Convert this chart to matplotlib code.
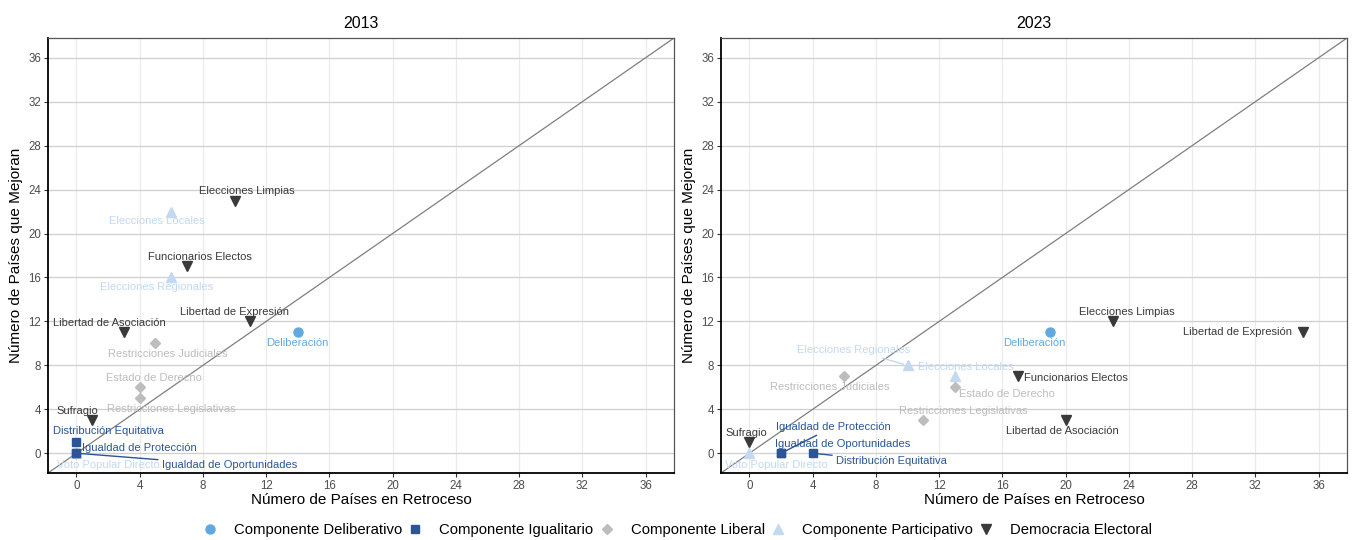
import matplotlib
matplotlib.use("Agg")
import matplotlib.pyplot as plt
from matplotlib.ticker import MultipleLocator

plt.rcParams['font.family'] = ['Liberation Sans', 'DejaVu Sans']

# components and styles
components = ["Componente Deliberativo", "Componente Igualitario", "Componente Liberal",
              "Componente Participativo", "Democracia Electoral"]
comp_colors = {"Componente Deliberativo": "#62a8e0",
               "Componente Igualitario": "#2b5597",
               "Componente Liberal": "#bdbdbd",
               "Componente Participativo": "#c2d9f0",
               "Democracia Electoral": "#3a3a3a"}
comp_markers = {"Componente Deliberativo": "o",
                "Componente Igualitario": "s",
                "Componente Liberal": "D",
                "Componente Participativo": "^",
                "Democracia Electoral": "v"}
comp_sizes = {"o": 6.5, "s": 6, "D": 5.2, "^": 7.5, "v": 7.5}
comp_z = {"Componente Deliberativo": 4, "Componente Igualitario": 4.5,
          "Componente Liberal": 4, "Componente Participativo": 3.5,
          "Democracia Electoral": 4}

indicators = ["Deliberación",
              "Distribución Equitativa", "Igualdad de Protección", "Igualdad de Oportunidades",
              "Restricciones Judiciales", "Estado de Derecho", "Restricciones Legislativas",
              "Elecciones Locales", "Elecciones Regionales", "Voto Popular Directo",
              "Elecciones Limpias", "Funcionarios Electos", "Libertad de Expresión",
              "Libertad de Asociación", "Sufragio"]
indicator_comp = (["Componente Deliberativo"] + ["Componente Igualitario"] * 3 +
                  ["Componente Liberal"] * 3 + ["Componente Participativo"] * 3 +
                  ["Democracia Electoral"] * 5)

# countries declining (x) and improving (y)
retroceso_2013 = [14, 0, 0, 0, 5, 4, 4, 6, 6, 0, 10, 7, 11, 3, 1]
mejoran_2013 = [11, 1, 0, 0, 10, 6, 5, 22, 16, 0, 23, 17, 12, 11, 3]
retroceso_2023 = [19, 4, 2, 2, 6, 13, 11, 13, 10, 0, 23, 17, 35, 20, 0]
mejoran_2023 = [11, 0, 0, 0, 7, 6, 3, 7, 8, 0, 12, 7, 11, 3, 1]

# label offsets (dx, dy) from the point, and whether a segment is drawn
offsets_2013 = {"Deliberación": (0, -0.95, False),
                "Distribución Equitativa": (2.0, 1.0, False),
                "Igualdad de Protección": (4.0, 0.45, True),
                "Igualdad de Oportunidades": (9.7, -1.1, True),
                "Restricciones Judiciales": (0.8, -0.95, False),
                "Estado de Derecho": (0.9, 0.85, False),
                "Restricciones Legislativas": (2.0, -1.0, False),
                "Elecciones Locales": (-0.9, -0.9, False),
                "Elecciones Regionales": (-0.95, -0.9, False),
                "Voto Popular Directo": (2.0, -1.1, False),
                "Elecciones Limpias": (0.8, 0.85, False),
                "Funcionarios Electos": (0.8, 0.9, False),
                "Libertad de Expresión": (-1.0, 0.9, False),
                "Libertad de Asociación": (-0.9, 0.9, False),
                "Sufragio": (-0.94, 0.84, False)}
offsets_2023 = {"Deliberación": (-1.0, -0.95, False),
                "Distribución Equitativa": (5.0, -0.75, True),
                "Igualdad de Protección": (3.3, 2.4, True),
                "Igualdad de Oportunidades": (3.9, 0.8, False),
                "Restricciones Judiciales": (-0.9, -1.0, False),
                "Estado de Derecho": (3.3, -0.6, False),
                "Restricciones Legislativas": (2.5, 0.85, False),
                "Elecciones Locales": (0.7, 0.85, False),
                "Elecciones Regionales": (-3.4, 1.4, True),
                "Voto Popular Directo": (1.7, -1.1, False),
                "Elecciones Limpias": (0.9, 0.9, False),
                "Funcionarios Electos": (3.65, -0.14, False),
                "Libertad de Expresión": (-4.1, 0.0, False),
                "Libertad de Asociación": (-0.2, -1.0, False),
                "Sufragio": (-0.2, 0.83, False)}

panels = [("2013", retroceso_2013, mejoran_2013, offsets_2013),
          ("2023", retroceso_2023, mejoran_2023, offsets_2023)]

fig = plt.figure(figsize=(13.53, 5.40), dpi=100)
W, H = 1353, 540
ax_boxes = [(48, 674), (721, 1347)]
top_px, bot_px = 38, 473

lims = (-1.8, 37.8)
for (title, xs, ys, offs), (l, r) in zip(panels, ax_boxes):
    ax = fig.add_axes([l / W, 1 - bot_px / H, (r - l) / W, (bot_px - top_px) / H])
    ax.set_xlim(lims)
    ax.set_ylim(lims)
    ax.xaxis.set_major_locator(MultipleLocator(4))
    ax.yaxis.set_major_locator(MultipleLocator(4))
    ax.yaxis.grid(True, color='#cfcfcf', linewidth=0.9)
    ax.xaxis.grid(True, color='#ebebeb', linewidth=0.9)
    ax.set_axisbelow(True)
    ax.tick_params(length=3, width=0.8, color='#333333',
                   labelsize=8.3, labelcolor='#4d4d4d', pad=2)
    for side in ['left', 'bottom']:
        ax.spines[side].set_linewidth(1.3)
        ax.spines[side].set_color('black')
    for side in ['top', 'right']:
        ax.spines[side].set_linewidth(0.9)
        ax.spines[side].set_color('#555555')

    ax.plot(lims, lims, color='#7f7f7f', linewidth=0.9, zorder=2)

    for name, comp, x, y in zip(indicators, indicator_comp, xs, ys):
        c = comp_colors[comp]
        m = comp_markers[comp]
        ax.plot(x, y, linestyle='none', marker=m, markersize=comp_sizes[m],
                color=c, zorder=comp_z[comp])
        dx, dy, seg = offs[name]
        if seg:
            ax.annotate(name, xy=(x, y), xytext=(x + dx, y + dy), fontsize=8,
                        color=c, ha='center', va='center', zorder=5,
                        arrowprops=dict(arrowstyle='-', color=c, lw=1.0,
                                        shrinkA=1, shrinkB=3))
        else:
            ax.text(x + dx, y + dy, name, fontsize=8, color=c,
                    ha='center', va='center', zorder=5)

    ax.set_title(title, fontsize=11.5, pad=7)
    ax.set_xlabel("Número de Países en Retroceso", fontsize=11, labelpad=1)
    ax.set_ylabel("Número de Países que Mejoran", fontsize=11, labelpad=4)

handles = [plt.Line2D([], [], linestyle='none', marker=comp_markers[c],
                      markersize=comp_sizes[comp_markers[c]], color=comp_colors[c])
           for c in components]
fig.legend(handles, components, loc='center', bbox_to_anchor=(0.5, 1 - 530 / H),
           ncol=5, frameon=False, fontsize=10.7, handletextpad=1.0, columnspacing=0.3,
           handlelength=1.2)

fig.savefig("out.png", dpi=100)
